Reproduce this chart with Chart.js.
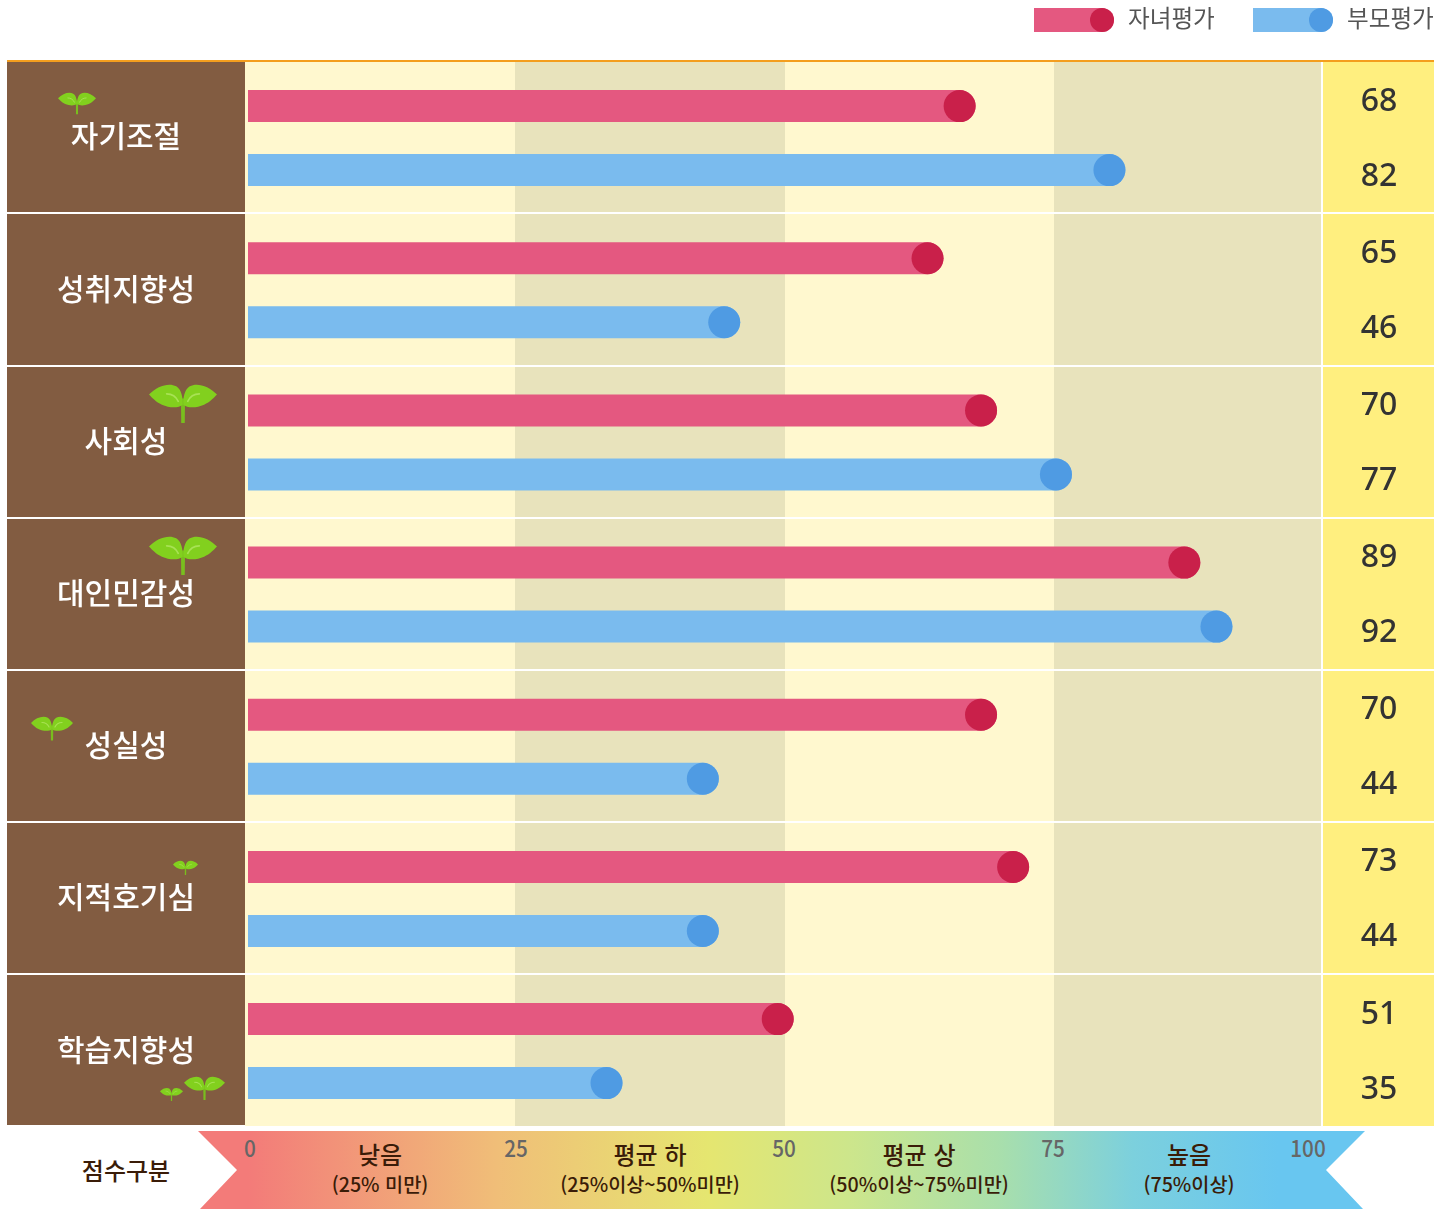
<!DOCTYPE html>
<html lang="ko"><head><meta charset="utf-8">
<script src="https://cdn.jsdelivr.net/npm/chart.js@4"></script>
<style>
html,body{margin:0;padding:0;background:#fff;width:1448px;height:1209px;overflow:hidden;font-family:"Noto Sans CJK KR","Noto Sans",sans-serif}
#c{position:absolute;left:0;top:0}
.t{position:absolute;white-space:nowrap;transform:translate(-50%,-50%);line-height:1}
.sw{position:absolute;top:8px;width:80px;height:24px;border-radius:0 12px 12px 0}
.sw i{position:absolute;right:0;top:0;width:24px;height:24px;border-radius:50%}
.lg{position:absolute;top:18px;font-size:23.6px;color:#555;line-height:1;transform:translateY(-50%);white-space:nowrap}
#band{position:absolute;left:198px;top:1131px;width:1167px;height:78px;
clip-path:polygon(0 0,100% 0,1128px 39px,1165px 100%,2px 100%,39px 39px);
background:linear-gradient(90deg,#F37B79 0,#F37B79 50px,#F0BE78 300px,#E5E670 510px,#CDE68B 650px,#A9DFAB 800px,#7CD0DD 935px,#68C6F0 1080px,#68C6F0 100%)}
.n{font-size:23px;font-weight:500;color:#666;transform:translate(-50%,-50%) scaleX(.9)}
.h{font-size:24px;font-weight:500;color:#3A1C08}
.s{font-size:19.7px;font-weight:500;color:#3A1C08}
</style></head><body>
<canvas id="c" width="1448" height="1128" style="width:1448px;height:1128px"></canvas>
<div class="sw" style="left:1034px;background:#E45880"><i style="background:#C9204A"></i></div>
<div class="lg" style="left:1128px" id="l0"></div>
<div class="sw" style="left:1253px;background:#7ABBEE"><i style="background:#4F9BE3"></i></div>
<div class="lg" style="left:1347px" id="l1"></div>
<div id="band"></div>
<script>
const categories = ["자기조절","성취지향성","사회성","대인민감성","성실성","지적호기심","학습지향성"];
const childScores = [68,65,70,89,70,73,51];
const parentScores = [82,46,77,92,44,44,35];
const seriesNames = ["자녀평가","부모평가"];
const bandEdges = [0,25,50,75,100];
const bandTitles = ["낮음","평균 하","평균 상","높음"];
const bandNotes = ["(25% 미만)","(25%이상~50%미만)","(50%이상~75%미만)","(75%이상)"];
const scaleTitle = "점수구분";
const scaleTickX = [250,516,784,1053,1308];
const bandTextX = [380,650,919,1189];
// decorative sprouts: [centre x, top y, width]
const sprouts = [[77,93,38],[183,385,68],[183,537,68],[52,717,42],[185.5,861,25],[171.5,1088,23],[204.5,1077,41]];

const C={pink:"#E45880",pinkD:"#C9204A",blue:"#7ABBEE",blueD:"#4F9BE3",brown:"#825C41",cream:"#FFF8CF",tan:"#E8E3BC",yellow:"#FFEF7F",orange:"#F49E1E"};
document.getElementById("l0").textContent=seriesNames[0];
document.getElementById("l1").textContent=seriesNames[1];
const band=document.body;
function addT(cls,x,y,txt){const d=document.createElement("div");d.className="t "+cls;d.style.left=x+"px";d.style.top=y+"px";d.textContent=txt;band.appendChild(d);}
addT("h",126,1169.5,scaleTitle);
bandEdges.forEach((v,i)=>addT("n",scaleTickX[i],1146.5,String(v)));
bandTitles.forEach((v,i)=>{addT("h",bandTextX[i],1153.5,v);addT("s",bandTextX[i],1184,bandNotes[i]);});

function sprout(ctx,cx,top,w){
  ctx.save();ctx.translate(cx,top);ctx.scale(w,w);
  ctx.fillStyle="#79BE1E";ctx.beginPath();ctx.moveTo(-.03,.2);ctx.lineTo(.03,.2);ctx.lineTo(.026,.56);ctx.lineTo(-.026,.56);ctx.closePath();ctx.fill();
  [-1,1].forEach(s=>{
    ctx.save();ctx.scale(s,1);
    ctx.fillStyle="#82D01E";ctx.beginPath();ctx.moveTo(-.5,.14);
    ctx.bezierCurveTo(-.38,.01,-.2,-.04,-.1,.02);
    ctx.bezierCurveTo(-.02,.07,.0,.19,-.005,.29);
    ctx.bezierCurveTo(-.06,.34,-.2,.34,-.31,.29);
    ctx.bezierCurveTo(-.4,.25,-.45,.19,-.5,.14);ctx.closePath();ctx.fill();
    ctx.strokeStyle="#A8E254";ctx.lineWidth=.025;ctx.lineCap="round";ctx.beginPath();ctx.moveTo(-.24,.13);ctx.quadraticCurveTo(-.12,.13,-.07,.24);ctx.stroke();
    ctx.restore();
  });
  ctx.restore();
}
const decor={id:"decor",
  beforeDraw(ch){
    const {ctx,chartArea:a,scales}=ch;const xb=scales.x2;
    ctx.save();
    const top=62,bot=1126;
    ctx.fillStyle=C.brown;ctx.fillRect(7,top,a.left-7,bot-1-top);
    for(let i=0;i<bandEdges.length-1;i++){
      ctx.fillStyle=i%2?C.tan:C.cream;
      const x0=Math.round(xb.getPixelForValue(bandEdges[i])),x1=Math.round(xb.getPixelForValue(bandEdges[i+1]));
      ctx.fillRect(x0,top,x1-x0,bot-top);
    }
    ctx.fillStyle=C.yellow;ctx.fillRect(1323,top,111,bot-top);
    ctx.fillStyle="#fff";ctx.fillRect(1321,top,2,bot-top);
    for(let i=0;i<categories.length-1;i++)ctx.fillRect(7,Math.round(212.4+152.2*i),1427,2);
    ctx.fillStyle=C.orange;ctx.fillRect(7,top-2,1427,2);
    sprouts.forEach(s=>sprout(ctx,s[0],s[1],s[2]));
    ctx.restore();
  },
  afterDatasetsDraw(ch){
    const {ctx,chartArea:a}=ch;
    ctx.save();
    ch.data.datasets.forEach((ds,di)=>{
      ch.getDatasetMeta(di).data.forEach((b,i)=>{
        ctx.fillStyle=ds.dotColor;ctx.beginPath();ctx.arc(b.x-16,b.y,16,0,Math.PI*2);ctx.fill();
        ctx.fillStyle="#333";ctx.font='500 32px "Noto Sans","Noto Sans CJK KR"';ctx.textAlign="center";ctx.textBaseline="middle";
        const rh=(a.bottom-a.top)/categories.length;
        ctx.fillText(String(ds.data[i]),1379,a.top+rh*i+(di?112:37)+2.4);
      });
    });
    ctx.restore();
  }};
new Chart(document.getElementById("c"),{type:"bar",plugins:[decor],
  data:{labels:categories,datasets:[
    {label:seriesNames[0],data:childScores,backgroundColor:C.pink,dotColor:C.pinkD,borderRadius:{topRight:16,bottomRight:16},borderSkipped:false},
    {label:seriesNames[1],data:parentScores,backgroundColor:C.blue,dotColor:C.blueD,borderRadius:{topRight:16,bottomRight:16},borderSkipped:false}]},
  options:{indexAxis:"y",responsive:false,animation:false,
    layout:{padding:{left:7,right:126,top:62,bottom:0.8}},
    datasets:{bar:{categoryPercentage:128/152.17,barPercentage:.5}},
    plugins:{legend:{display:false},title:{display:false},tooltip:{enabled:false}},
    scales:{
      x:{display:false,min:-0.28,max:100.37,grid:{display:false}},
      x2:{axis:"x",display:false,min:0,max:99.8,grid:{display:false}},
      y:{position:"left",grid:{display:false},border:{display:false},
        afterFit(s){s.width=238;s.paddingTop=0;s.paddingBottom=0;s.paddingLeft=0;s.paddingRight=0;},
        ticks:{color:"#fff",padding:42,labelOffset:-2,crossAlign:"center",autoSkip:false,font:{family:'"Noto Sans CJK KR"',size:30,weight:"500"}}}
    }}});
</script></body></html>
